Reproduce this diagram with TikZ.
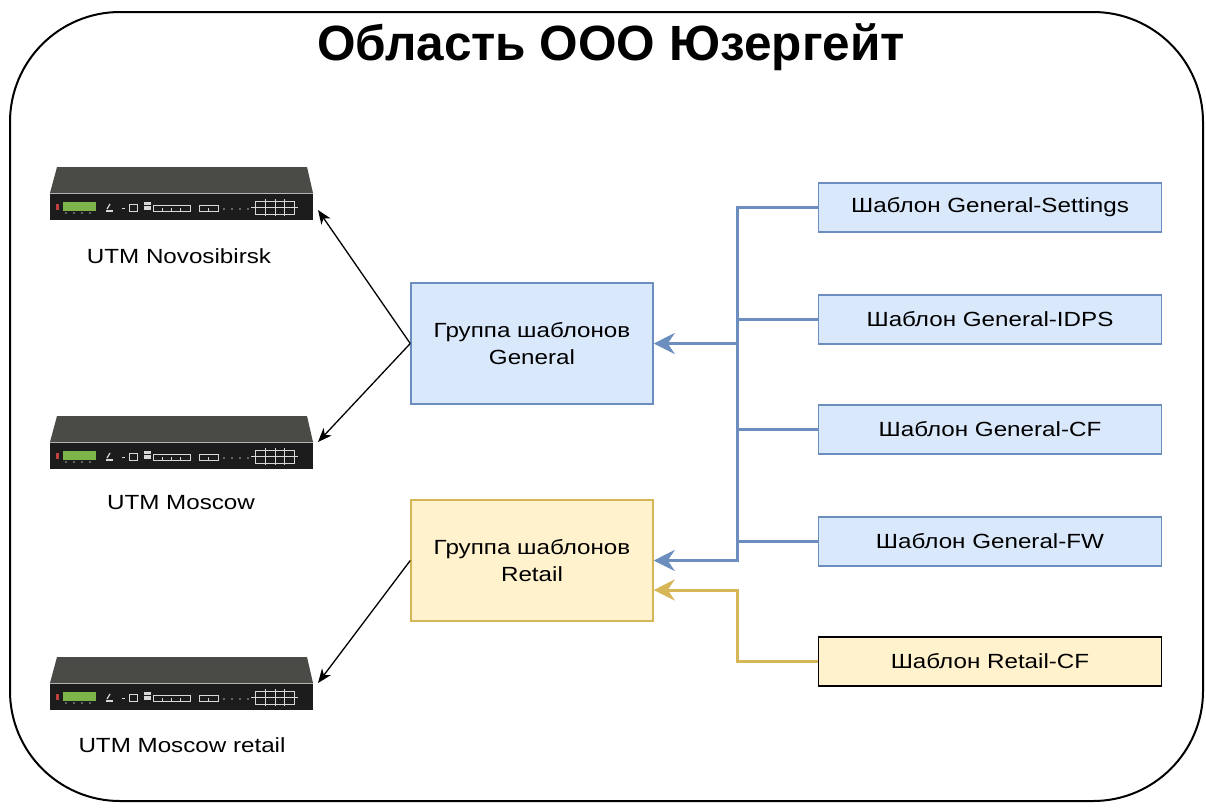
\documentclass[tikz,border=0pt]{standalone}
\usepackage{fontspec}
\setmainfont{Liberation Sans}[FakeStretch=1.18]
\newfontfamily\titlefont{Liberation Sans}
\usetikzlibrary{arrows.meta,calc}
\definecolor{bfill}{HTML}{DAE8FC}
\definecolor{bline}{HTML}{6C8EBF}
\definecolor{yfill}{HTML}{FFF2CC}
\definecolor{yline}{HTML}{D6B656}
\definecolor{devtop}{HTML}{4A4A47}
\definecolor{devfront}{HTML}{1C1C1C}
\definecolor{lcd}{HTML}{7DB54A}
\definecolor{port}{HTML}{D8D8D8}
\tikzset{
  grpbox/.style={draw=bline, fill=bfill, line width=1.5pt, minimum width=242pt, minimum height=121pt, align=center, font=\fontsize{20.5}{27}\selectfont, inner sep=0pt},
  tplbox/.style={draw=bline, fill=bfill, line width=1.5pt, minimum width=343pt, minimum height=49pt, font=\fontsize{20.5}{24}\selectfont, inner sep=0pt},
  devlabel/.style={font=\fontsize{20.5}{24}\selectfont, inner sep=0pt},
  blueconn/.style={draw=bline, line width=3pt, line cap=rect},
  yelconn/.style={draw=yline, line width=3pt},
  bluearr/.style={blueconn, -{Stealth[length=21pt,width=21pt,inset=7pt]}},
  yelarr/.style={yelconn, -{Stealth[length=21pt,width=21pt,inset=7pt]}},
  blkarr/.style={draw=black, line width=1.3pt, -{Stealth[length=14pt,width=11pt,inset=4pt]}},
  portline/.style={draw=port, line width=1pt},
  utm/.pic={
    \fill[devtop] (-125,-26) -- (125,-26) -- (131,0) -- (-132,0) -- cycle;
    \fill[devfront] (-132,0) rectangle (131,27);
    \draw[gray!60, line width=0.8pt] (-132,0) -- (131,0);
    \fill[red!50!gray] (-126,11) rectangle (-123,17);
    \fill[lcd] (-119,9) rectangle (-86,18);
    \foreach \px in {-116,-108,-100,-92} { \fill[gray!70] (\px,20) circle (0.8); }
    \fill[port] (-76,17) rectangle (-69,19);
    \draw[port, line width=1.2pt] (-75,16) -- (-72,11);
    \draw[port, line width=1pt] (-60,15) -- (-57,15);
    \draw[portline] (-53,11) rectangle (-45,18);
    \fill[port] (-38,9) rectangle (-31,11.5);
    \fill[port] (-38,13) rectangle (-31,17);
    \draw[portline] (-29,12) rectangle (8,18);
    \foreach \px in {-20,-11,-2} { \draw[portline] (\px,18) -- (\px,15); }
    \draw[portline] (17,12) rectangle (36,18);
    \draw[portline] (26.5,18) -- (26.5,15);
    \foreach \px in {42,50,58,66} { \fill[gray!60] (\px,16) circle (0.8); }
    \draw[portline] (73,8) rectangle (112,21);
    \draw[portline] (69,14.5) -- (116,14.5);
    \foreach \px in {83,93,102} { \draw[portline] (\px,6) -- (\px,23); }
    \coordinate (-e) at (136,0);
  }
}
\begin{document}
\begin{tikzpicture}[x=1pt, y=-1pt]
\useasboundingbox (0,0) rectangle (1206,807);
% outer region
\draw[line width=2pt, rounded corners=110pt] (10,12) rectangle (1203,801);
\node[font=\titlefont\bfseries\fontsize{49.5}{54}\selectfont, inner sep=0pt] (title) at (611,47) {Область ООО Юзергейт};

% devices
\pic (d1) at (182,193) {utm};
\pic (d2) at (182,442) {utm};
\pic (d3) at (182,683) {utm};
\node[devlabel] (l1) at (179,256) {UTM Novosibirsk};
\node[devlabel] (l2) at (181,503) {UTM Moscow};
\node[devlabel] (l3) at (182,745) {UTM Moscow retail};

% groups
\node[grpbox] (gen) at (532,343.5) {Группа шаблонов\\General};
\node[grpbox, draw=yline, fill=yfill] (ret) at (532,560.5) {Группа шаблонов\\Retail};

% templates
\node[tplbox] (t1) at (990,207.5) {Шаблон General-Settings};
\node[tplbox] (t2) at (990,319.5) {Шаблон General-IDPS};
\node[tplbox] (t3) at (990,429.5) {Шаблон General-CF};
\node[tplbox] (t4) at (990,541.5) {Шаблон General-FW};
\node[tplbox, draw=black, fill=yfill] (t5) at (990,661.5) {Шаблон Retail-CF};

% blue bus
\coordinate (bt) at (737,207.5);
\coordinate (bb) at (737,560.5);
\draw[blueconn] (t1.west) -- (bt) -- (bb);
\draw[blueconn] (t2.west) -- (t2.west -| bt);
\draw[blueconn] (t3.west) -- (t3.west -| bt);
\draw[blueconn] (t4.west) -- (t4.west -| bt);
\draw[bluearr] (bt |- gen.east) -- (gen.east);
\draw[bluearr] (bb) -- (bb -| ret.east);

% yellow connector
\coordinate (yc) at (737,590);
\draw[yelarr] (t5.west) -| (yc) -- (yc -| ret.east);

% black arrows
\draw[blkarr] (gen.west) -- ($(d1-e)+(0,17)$);
\draw[blkarr] (gen.west) -- (d2-e);
\draw[blkarr] (ret.west) -- (d3-e);
\end{tikzpicture}
\end{document}
